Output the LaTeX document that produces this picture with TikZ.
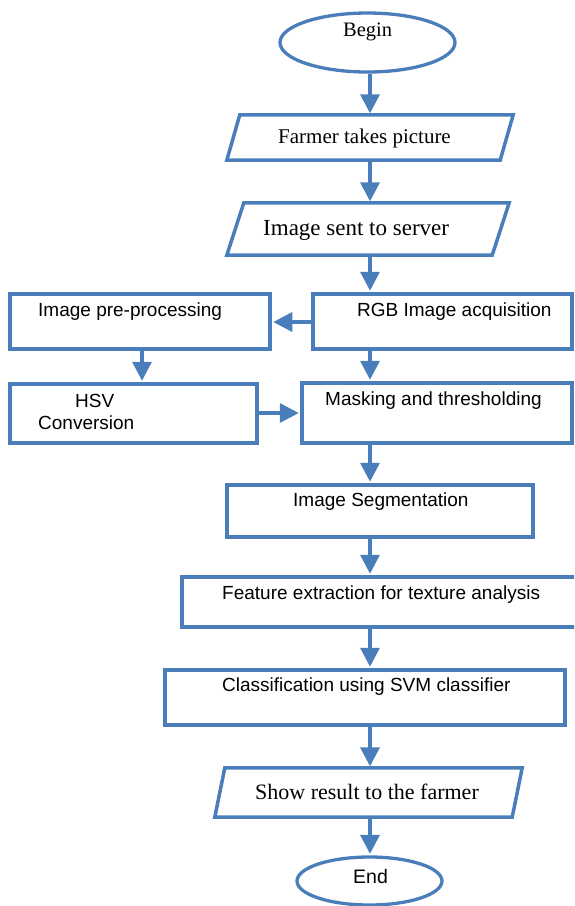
\documentclass[tikz,border=0pt]{standalone}
\usepackage{fontspec}
\setmainfont{Liberation Serif}
\setsansfont{Liberation Sans}
\usetikzlibrary{arrows.meta,shapes.geometric}
\definecolor{fblue}{RGB}{74,126,187}
\begin{document}
\begin{tikzpicture}[x=1pt,y=-1pt,
  box/.style={draw=fblue,line width=3.5pt,rectangle,inner sep=0pt},
  pbody/.style={rectangle,draw=none,inner sep=0pt},
  pgram/.style={draw=fblue,line width=3.5pt,line join=miter},
  oval/.style={draw=fblue,line width=3.3pt,ellipse,inner sep=0pt},
  arr/.style={draw=fblue,line width=3.5pt,-{Triangle[width=19pt,length=19pt]},shorten >=1.5pt},
  stxt/.style={anchor=base west,inner sep=0pt,font=\sffamily\fontsize{19}{23}\selectfont},
  rtxt/.style={anchor=base west,inner sep=0pt},
]
\useasboundingbox (0,0) rectangle (574,906);
\clip (0,0) rectangle (574,906);

% column coordinates
\coordinate (col) at (370,0);
\coordinate (colB) at (142,0);
\coordinate (rowA) at (0,322);
\coordinate (rowB) at (0,413);

% shapes
\node[oval,minimum width=175pt,minimum height=59pt] (begin) at (367.5,42.5) {};
\node[pbody,minimum width=286pt,minimum height=45pt] (farmer) at (370,137.5) {};
\draw[pgram] ([xshift=13pt]farmer.north west) -- (farmer.north east) -- ([xshift=-13pt]farmer.south east) -- (farmer.south west) -- cycle;
\node[pbody,minimum width=282pt,minimum height=52pt] (sent) at (368,229) {};
\draw[pgram] ([xshift=17pt]sent.north west) -- (sent.north east) -- ([xshift=-17pt]sent.south east) -- (sent.south west) -- cycle;
\node[box,minimum width=260pt,minimum height=55pt] (pre) at (140,321.5) {};
\node[box,minimum width=259pt,minimum height=55pt] (rgb) at (442.5,321.5) {};
\node[box,minimum width=247pt,minimum height=59pt] (hsv) at (133.5,413.5) {};
\node[box,minimum width=270pt,minimum height=60pt] (mask) at (437,413) {};
\node[box,minimum width=306pt,minimum height=52pt] (seg) at (380,511) {};
\node[box,minimum width=396pt,minimum height=50pt] (feat) at (380,602) {};
\node[box,minimum width=400pt,minimum height=55pt] (cls) at (365,697.5) {};
\node[pbody,minimum width=307pt,minimum height=49pt] (show) at (368.5,792.5) {};
\draw[pgram] ([xshift=10pt]show.north west) -- (show.north east) -- ([xshift=-10pt]show.south east) -- (show.south west) -- cycle;
\node[oval,minimum width=145pt,minimum height=48pt] (end) at (369.5,881) {};

% texts
\node[rtxt,font=\fontsize{20.5}{24}\selectfont] (tbegin) at (343,36) {Begin};
\node[rtxt,font=\fontsize{21}{25}\selectfont] (tfarmer) at (278,143) {Farmer takes picture};
\node[rtxt,font=\fontsize{23}{27}\selectfont] (tsent) at (263,235) {Image sent to server};
\node[stxt] (tpre) at (38,316) {Image pre-processing};
\node[stxt] (trgb) at (357,316) {RGB Image acquisition};
\node[stxt] (thsv) at (75,407) {HSV};
\node[stxt] (tconv) at (38,429) {Conversion};
\node[stxt] (tmask) at (325,405) {Masking and thresholding};
\node[stxt] (tseg) at (293,506) {Image Segmentation};
\node[stxt] (tfeat) at (222,599) {Feature extraction for texture analysis};
\node[stxt] (tcls) at (222,691) {Classification using SVM classifier};
\node[rtxt,font=\fontsize{22}{26}\selectfont] (tshow) at (255,799) {Show result to the farmer};
\node[stxt,font=\sffamily\fontsize{19.5}{23}\selectfont] (tend) at (353,883) {End};

% connectors
\draw[arr] (begin.south -| col) -- (farmer.north -| col);
\draw[arr] (farmer.south -| col) -- (sent.north -| col);
\draw[arr] (sent.south -| col) -- (rgb.north -| col);
\draw[arr] (rgb.west |- rowA) -- (pre.east |- rowA);
\draw[arr] (pre.south -| colB) -- (hsv.north -| colB);
\draw[arr] (rgb.south -| col) -- (mask.north -| col);
\draw[arr] (hsv.east |- rowB) -- (mask.west |- rowB);
\draw[arr] (mask.south -| col) -- (seg.north -| col);
\draw[arr] (seg.south -| col) -- (feat.north -| col);
\draw[arr] (feat.south -| col) -- (cls.north -| col);
\draw[arr] (cls.south -| col) -- (show.north -| col);
\draw[arr] (show.south -| col) -- (end.north -| col);
\end{tikzpicture}
\end{document}
